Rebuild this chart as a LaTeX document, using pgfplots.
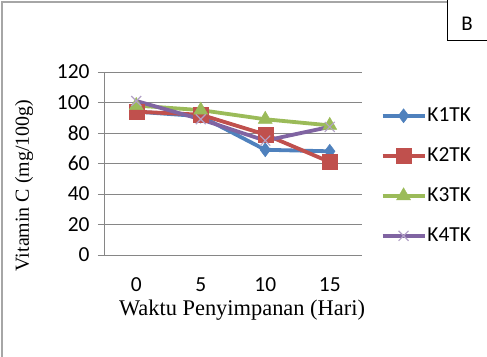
\documentclass[border=0pt]{standalone}
\usepackage{fontspec}
\setmainfont{Liberation Serif}
\newfontfamily\calibri{Carlito}
\usepackage{pgfplots}
\pgfplotsset{compat=1.18}
\definecolor{c1}{HTML}{4F81BD}
\definecolor{c2}{HTML}{C0504D}
\definecolor{c3}{HTML}{9BBB59}
\definecolor{c4}{HTML}{8064A2}
\definecolor{gridc}{HTML}{868686}
\begin{document}
\begin{tikzpicture}
\useasboundingbox (0bp,0bp) rectangle (487bp,357bp);
\fill[white] (0bp,0bp) rectangle (487bp,357bp);
\draw[gray!70, line width=1.5bp] (2bp,0bp) -- (2bp,355bp) -- (447bp,355bp);
\draw[black, line width=1bp] (447.5bp,357bp) -- (447.5bp,316.5bp) -- (487bp,316.5bp);
\node[font=\calibri\fontsize{21}{22}\selectfont, anchor=center] at (467bp,333bp) {B};
\begin{axis}[
  at={(104bp,102bp)}, anchor=south west,
  scale only axis, width=258bp, height=183bp,
  xmin=-0.5, xmax=3.5, ymin=0, ymax=120,
  ytick={0,20,40,60,80,100,120},
  xtick={0,1,2,3}, xticklabels={0,5,10,15},
  major x tick style={draw=none},
  extra x ticks={-0.5,0.5,1.5,2.5,3.5},
  extra x tick labels={},
  extra x tick style={major tick length=7bp, tick style={draw=gridc, line width=0.8bp}, grid=none},
  ymajorgrids, grid style={draw=gridc, line width=0.8bp},
  major y tick style={draw=gridc, line width=0.8bp},
  major tick length=6bp,
  tick align=outside,
  axis x line*=bottom, axis y line*=left,
  axis line style={draw=gridc, line width=0.8bp, -},
  /pgf/number format/assume math mode=true,
  tick label style={font=\calibri\fontsize{21.5}{22}\selectfont},
  yticklabel style={xshift=-5bp},
  xticklabel style={anchor=center, yshift=-24bp, inner sep=0pt, text depth=0pt},
  xlabel={Waktu Penyimpanan (Hari)},
  ylabel={Vitamin C (mg/100g)},
  xlabel style={font=\fontsize{22.5}{23}\selectfont, inner sep=0pt, at={(axis description cs:0.535,-0.30)}, anchor=center},
  ylabel style={font=\fontsize{20}{21}\selectfont, at={(axis description cs:-0.31,0.38)}, anchor=center},
  clip=false,
  legend style={at={(1.06,0.83)}, anchor=north west, draw=none, fill=none,
    font=\calibri\fontsize{21.5}{22}\selectfont,
    nodes={inner sep=1bp, text height=15bp, text depth=4bp, anchor=west},
    row sep=19bp},
  legend cell align=left,
  legend image code/.code={\draw[mark repeat=2,mark phase=2] plot coordinates {(0bp,0bp)(21bp,0bp)(42bp,0bp)};},
  every axis plot/.append style={line width=3.8bp},
]
\addplot[c1, mark=diamond*, mark size=7bp, mark options={line width=0.5bp}] coordinates {(0,94) (1,91) (2,69) (3,68)};
\addlegendentry{K1TK}
\addplot[c2, mark=square*, mark size=7.5bp, mark options={line width=0.5bp}] coordinates {(0,94) (1,92) (2,79) (3,61)};
\addlegendentry{K2TK}
\addplot[c3, mark=triangle*, mark size=8bp, mark options={line width=0.5bp}] coordinates {(0,98) (1,95) (2,89) (3,85)};
\addlegendentry{K3TK}
\addplot[c4, mark=x, mark size=7bp, mark options={line width=1.2bp, draw=c4!60}] coordinates {(0,101) (1,89) (2,75) (3,84)};
\addlegendentry{K4TK}
\end{axis}
\end{tikzpicture}
\end{document}
